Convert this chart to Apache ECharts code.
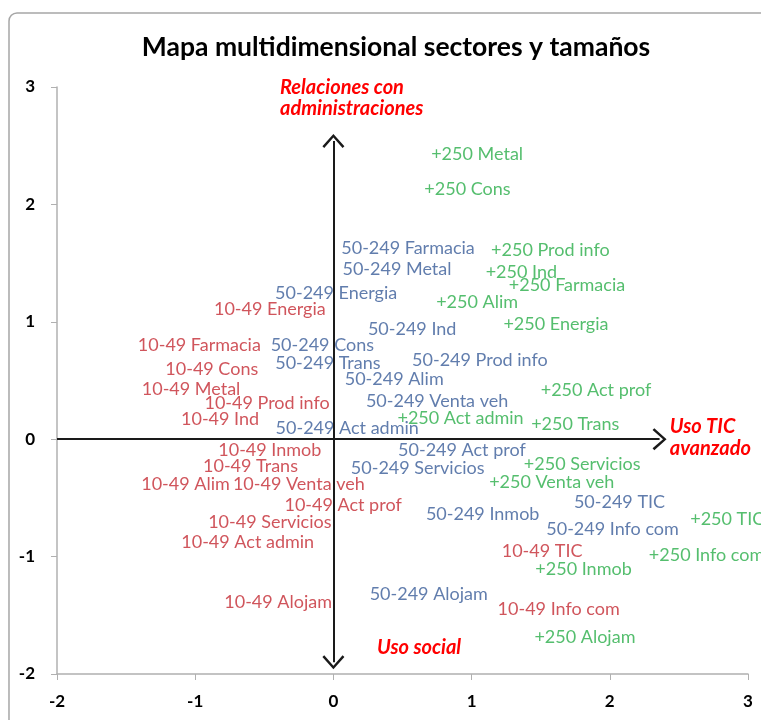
<!DOCTYPE html>
<html>
<head>
<meta charset="utf-8">
<script src="https://cdn.jsdelivr.net/npm/echarts@6/dist/echarts.min.js"></script>
<style>
html, body { margin: 0; padding: 0; background: #fff; }
#chart { width: 761px; height: 720px; }
</style>
</head>
<body>
<div id="chart"></div>
<script>
// sector order shared by the three size groups
const sectors = ['Metal', 'Cons', 'Prod info', 'Ind', 'Farmacia', 'Alim', 'Energia', 'Act prof',
  'Act admin', 'Trans', 'Servicios', 'Venta veh', 'TIC', 'Info com', 'Inmob', 'Alojam']

// 10-49 employees
const smallX = [-1.03, -0.88, -0.48, -0.82, -0.97, -1.07, -0.46, 0.07, -0.62, -0.60, -0.46, -0.25, 1.51, 1.63, -0.46, -0.40]
const smallY = [0.43, 0.60, 0.31, 0.17, 0.80, -0.38, 1.11, -0.56, -0.88, -0.23, -0.71, -0.38, -0.95, -1.45, -0.09, -1.39]
// 50-249 employees
const mediumX = [0.46, -0.08, 1.06, 0.57, 0.54, 0.44, 0.02, 0.93, 0.10, -0.04, 0.61, 0.75, 2.07, 2.02, 1.08, 0.69]
const mediumY = [1.45, 0.80, 0.67, 0.94, 1.63, 0.51, 1.24, -0.09, 0.09, 0.65, -0.25, 0.32, -0.54, -0.77, -0.64, -1.32]
// +250 employees
const largeX = [1.04, 0.97, 1.57, 1.36, 1.69, 1.04, 1.61, 1.90, 0.92, 1.75, 1.80, 1.58, 2.85, 2.70, 1.81, 1.82]
const largeY = [2.43, 2.13, 1.61, 1.42, 1.31, 1.17, 0.98, 0.42, 0.18, 0.13, -0.21, -0.37, -0.68, -0.99, -1.11, -1.69]

const groups = ['10-49', '50-249', '+250']
const xTicks = [-2, -1, 0, 1, 2, 3]
const yTicks = [-2, -1, 0, 1, 2, 3]

// axis arrows (data coordinates)
const verticalArrow = [[0, -1.90], [0, 2.54]]
const horizontalArrow = [[-2, 0], [2.36, 0]]

const FONT = 'Lato'
const arrowHead = 'path://M0,14 L12,0 L24,14 L22,16 L12,4 L2,16 Z'

function buildPoints(xs, ys, prefix) {
  return sectors.map((s, i) => ({ value: [xs[i], ys[i]], name: prefix + ' ' + s }))
}

function labelSeries(name, xs, ys, color) {
  return {
    name,
    type: 'scatter',
    symbolSize: 0,
    data: buildPoints(xs, ys, name),
    label: {
      show: true,
      position: 'inside',
      formatter: '{b}',
      color,
      fontFamily: FONT,
      fontSize: 18,
    },
    emphasis: { disabled: true },
  }
}

const chart = echarts.init(document.getElementById('chart'))
chart.setOption({
  animation: false,
  title: {
    text: 'Mapa multidimensional sectores y tamaños',
    left: 391,
    textAlign: 'center',
    top: 29,
    textStyle: { fontFamily: FONT, fontSize: 26.5, fontWeight: 'bold', color: '#000' },
  },
  grid: { left: 57, right: 13, top: 87, bottom: 46 },
  xAxis: {
    type: 'value',
    min: xTicks[0],
    max: xTicks[xTicks.length - 1],
    interval: 1,
    axisLine: { onZero: false, lineStyle: { color: '#b0b0b0', width: 1.5 } },
    axisTick: { show: true, length: 6, lineStyle: { color: '#b0b0b0' } },
    axisLabel: { color: '#000', fontFamily: FONT, fontWeight: 'bold', fontSize: 17, margin: 19 },
    splitLine: { show: false },
  },
  yAxis: {
    type: 'value',
    min: yTicks[0],
    max: yTicks[yTicks.length - 1],
    interval: 1,
    axisLine: { show: true, onZero: false, lineStyle: { color: '#b0b0b0', width: 1.5 } },
    axisTick: { show: true, length: 6, lineStyle: { color: '#b0b0b0' } },
    axisLabel: { color: '#000', fontFamily: FONT, fontWeight: 'bold', fontSize: 17, margin: 22 },
    splitLine: { show: false },
  },
  graphic: [
    {
      type: 'rect',
      shape: { x: 9, y: 13, width: 820, height: 820, r: 8 },
      style: { fill: 'none', stroke: '#a6a6a6', lineWidth: 1.5 },
      silent: true,
    },
    {
      type: 'text', left: 280, top: 77,
      style: { text: 'Relaciones con\nadministraciones', fill: '#ff0000', font: 'italic bold 20px Lato', lineHeight: 21 },
    },
    {
      type: 'text', right: 10, top: 416,
      style: { text: 'Uso TIC\navanzado', fill: '#ff0000', font: 'italic bold 20px Lato', lineHeight: 22, align: 'right' },
    },
    {
      type: 'text', left: 377, top: 638,
      style: { text: 'Uso social', fill: '#ff0000', font: 'italic bold 20px Lato' },
    },
  ],
  series: [
    {
      type: 'scatter',
      data: [],
      markLine: {
        silent: true,
        animation: false,
        symbol: [arrowHead, arrowHead],
        symbolSize: [22, 14],
        label: { show: false },
        lineStyle: { type: 'solid', color: '#1a1a1a', width: 2 },
        data: [
          [{ coord: verticalArrow[0] }, { coord: verticalArrow[1] }],
        ],
      },
    },
    {
      type: 'scatter',
      data: [],
      markLine: {
        silent: true,
        animation: false,
        symbol: ['none', arrowHead],
        symbolSize: [22, 14],
        label: { show: false },
        lineStyle: { type: 'solid', color: '#1a1a1a', width: 2 },
        data: [
          [{ coord: horizontalArrow[0] }, { coord: horizontalArrow[1] }],
        ],
      },
    },
    labelSeries(groups[0], smallX, smallY, '#c42a33'),
    labelSeries(groups[1], mediumX, mediumY, '#3a5d99'),
    labelSeries(groups[2], largeX, largeY, '#2aae4a'),
  ],
})
</script>
</body>
</html>
